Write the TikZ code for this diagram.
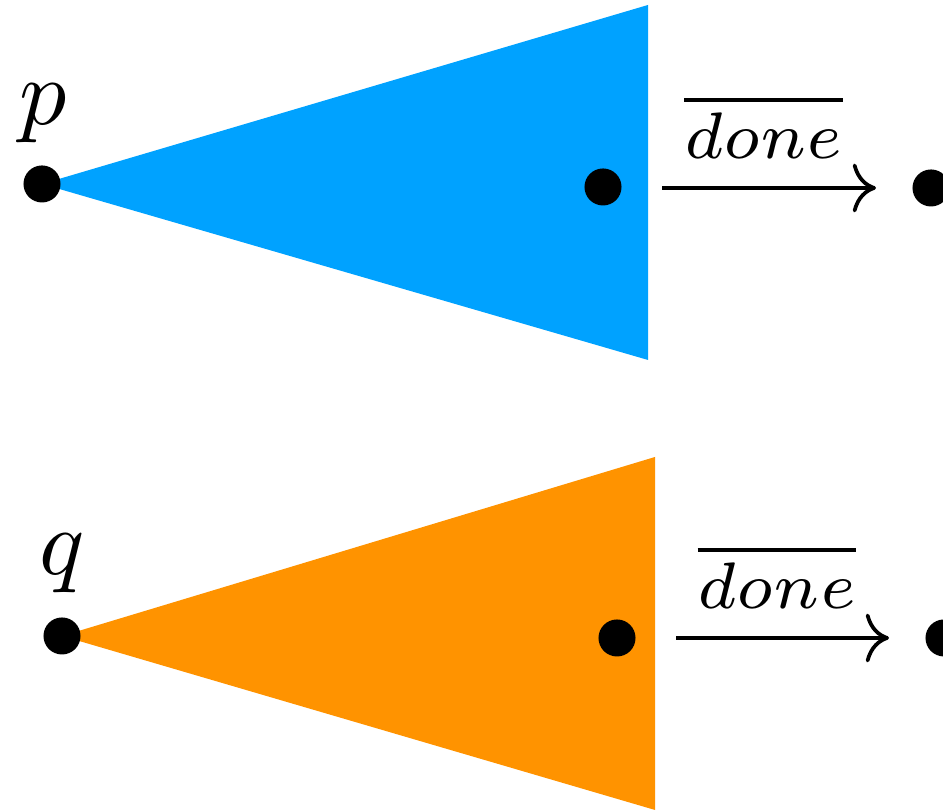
\documentclass[tikz,border=0pt]{standalone}
\usetikzlibrary{arrows.meta}
\definecolor{triblue}{RGB}{0,162,255}
\definecolor{triorange}{RGB}{255,147,0}
\begin{document}
\begin{tikzpicture}[x=0.1064pt,y=-0.1064pt,
  dot/.style={circle,fill=black,inner sep=0pt,minimum size=3.94pt},
  arr/.style={line width=0.4pt,-{Computer Modern Rightarrow}},
  lbl/.style={midway,above,inner sep=0pt,yshift=2.9pt,xshift=-0.6pt}]
\useasboundingbox (0,0) rectangle (943,812);
% blue triangle
\fill[triblue] (42,184) -- (648,5) -- (648,360) -- cycle;
\node[dot] (p) at (42,184) {};
\node[anchor=base] (plabel) at (43,125) {$p$};
\node[dot] (p1) at (603,187) {};
\node[dot] (p2) at (931,188) {};
\coordinate (a1s) at (662,188);
\coordinate (a1e) at (876,188);
\draw[arr] (a1s) -- (a1e) node[lbl] {$\scriptstyle\overline{done}$};
% orange triangle
\fill[triorange] (62,636) -- (655,457) -- (655,810) -- cycle;
\node[dot] (q) at (62,636) {};
\node[anchor=base] (qlabel) at (62,575) {$q$};
\node[dot] (q1) at (617,638) {};
\node[dot] (q2) at (944,638) {};
\coordinate (a2s) at (676,638);
\coordinate (a2e) at (889,638);
\draw[arr] (a2s) -- (a2e) node[lbl] {$\scriptstyle\overline{done}$};
\end{tikzpicture}
\end{document}
